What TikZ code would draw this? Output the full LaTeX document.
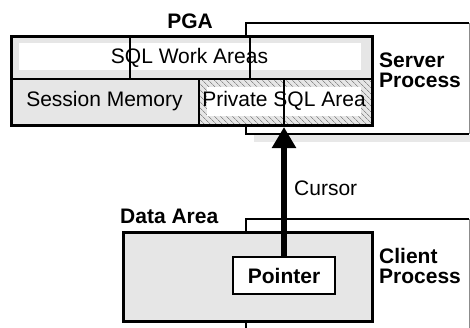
\documentclass[tikz,border=0pt]{standalone}
\usepackage{fontspec}
\setmainfont{Liberation Sans}
\usetikzlibrary{arrows.meta,patterns.meta}
\definecolor{areagray}{HTML}{E6E6E6}
\definecolor{shadegray}{HTML}{E8E8E8}
\definecolor{hatchgray}{HTML}{8C8C8C}

\begin{document}
\begin{tikzpicture}[x=1pt,y=-1pt,font=\fontsize{21}{20}\selectfont,
    box/.style={draw,anchor=north west,inner sep=0pt},
    procbox/.style={anchor=north west,inner sep=0pt,fill=white},
    lbl/.style={font=\fontsize{21}{20}\selectfont\bfseries,inner sep=0pt,align=left},
    txt/.style={inner sep=0pt,anchor=base}]
    \useasboundingbox (0,0) rectangle (470,327);
    \coordinate (tip) at (284,127);
    % server process
    \node[procbox,minimum width=223pt,minimum height=111pt] (srv) at (246,23) {};
    \fill[shadegray] (254,135) rectangle (470,142);
    \draw[line width=2pt] (srv.north east) -- (srv.north west) -- (srv.south west) -- (srv.south east);
    \draw[hatchgray,line width=0.8pt] (srv.north east) -- (srv.south east);
    % PGA
    \fill[areagray] (10,35) rectangle (371,124);
    \fill[white] (19,43) rectangle (361,70);
    \path[pattern={Lines[angle=-45,distance=4pt,line width=0.7pt]},pattern color=hatchgray] (199,79) rectangle (371,124);
    \fill[white] (207,87) rectangle (361,116);
    \draw[line width=1.5pt] (10,79) -- (371,79) (199,79) -- (199,124) (130,35) -- (130,79) (250,35) -- (250,79);
    \draw[line width=1.5pt] (284,79) -- (tip);
    \node[box,line width=3pt,minimum width=361pt,minimum height=89pt] (pga) at (10,35) {};
    \node[txt] (sqlwork) at (189.5,63) {SQL Work Areas};
    \node[txt] (sessmem) at (104.5,106) {Session Memory};
    \node[txt] (privsql) at (284,106) {Private SQL Area};
    \node[lbl,anchor=base] (pgalbl) at (190,28) {PGA};
    \node[lbl,anchor=west] (srvlbl) at (379,70.5) {Server\\Process};
    % client process
    \node[procbox,minimum width=223pt,minimum height=120pt] (cli) at (246,219) {};
    \draw[line width=2pt] (cli.north east) -- (cli.north west) -- (cli.south west);
    \draw[hatchgray,line width=0.8pt] (cli.north east) -- (cli.south east);
    \node[box,line width=3pt,fill=areagray,minimum width=249pt,minimum height=89pt] (data) at (122,231) {};
    \node[draw,line width=2.5pt,fill=white,minimum width=102pt,minimum height=37pt,inner sep=0pt,
        font=\fontsize{21}{20}\selectfont\bfseries] (ptr) at (284,275.5) {Pointer};
    \node[lbl,anchor=base west] (datalbl) at (120,223) {Data Area};
    \node[lbl,anchor=west] (clilbl) at (379,266) {Client\\Process};
    \draw[line width=6pt,-{Triangle[width=23pt,length=21pt]}] (ptr.north) -- (tip);
    \node[txt,anchor=base west] (cursor) at (294,195) {Cursor};
\end{tikzpicture}
\end{document}
